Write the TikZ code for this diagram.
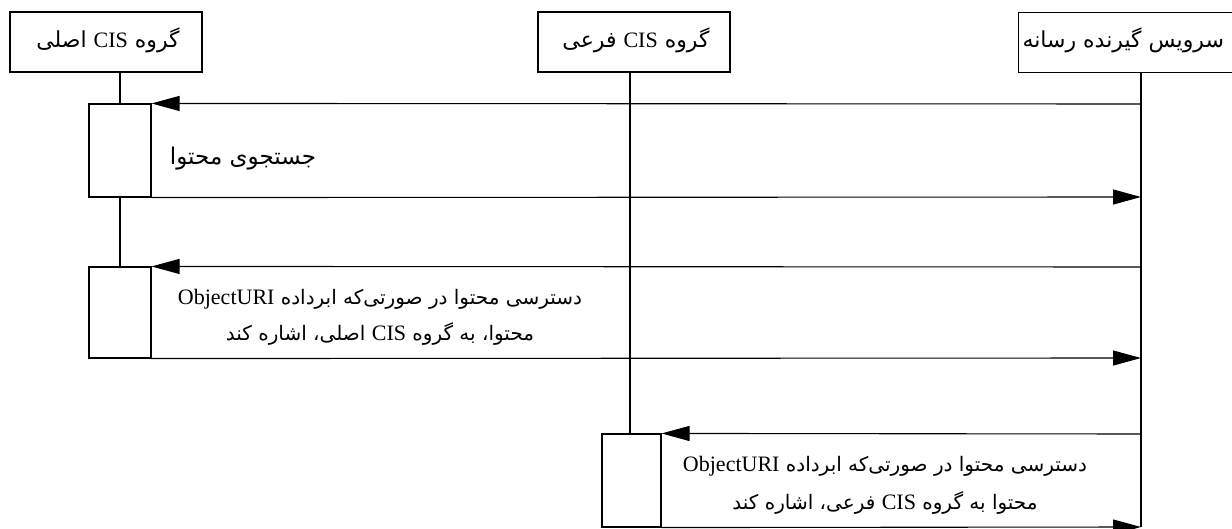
\documentclass[tikz,border=0pt]{standalone}
\usepackage{fontspec}
\setmainfont{Liberation Serif}
\newfontfamily\farsifont[Script=Arabic]{DejaVu Sans}
\newfontfamily\latinfont{Liberation Serif}
\newfontfamily\latinbigfont[Scale=1.1]{Liberation Serif}
\TeXXeTstate=1
\usetikzlibrary{arrows.meta}

% Persian run (right to left) and embedded Latin words
\newcommand{\fatext}[1]{{\farsifont\beginR #1\endR}}
\newcommand{\latinword}[1]{\beginL{\latinfont #1}\endL{}}
\newcommand{\latinbig}[1]{\beginL{\latinbigfont #1}\endL{}}

\begin{document}
\begin{tikzpicture}[x=1pt,y=-1pt,line width=1.1pt,
  hdr/.style={draw,rectangle,inner sep=0pt,minimum width=192pt,minimum height=60pt},
  hdrtext/.style={inner sep=0pt,font=\fontsize{22}{26}\selectfont},
  act/.style={draw,rectangle,inner sep=0pt},
  msg/.style={-{Triangle[length=28pt,width=15pt]}},
  lbl/.style={inner sep=0pt,font=\fontsize{20}{24}\selectfont}]
\useasboundingbox (0,0) rectangle (1232,529);

% participants
\node[hdr] (hdrA) at (106,42) {};
\node[hdrtext] (hdrAtext) at (108,40) {\fatext{گروه \latinword{CIS} اصلی}};
\node[hdr] (hdrB) at (634,42) {};
\node[hdrtext] (hdrBtext) at (636,40) {\fatext{گروه \latinword{CIS} فرعی}};
\node[draw,rectangle,inner sep=0pt,minimum width=240pt,minimum height=60pt,anchor=north west] (hdrC) at (1018,12) {};
\node[hdrtext,anchor=west] (hdrCtext) at (1022,40) {\fatext{سرویس گیرنده رسانه}};

% activation boxes
\node[act,minimum width=62pt,minimum height=93pt] (act1) at (120,150.5) {};
\node[act,minimum width=62pt,minimum height=91pt] (act2) at (120,312.5) {};
\node[act,minimum width=59pt,minimum height=93pt] (act3) at (631.5,480.5) {};

% lifeline points
\coordinate (a0) at (120,72);
\coordinate (b0) at (630,72);
\coordinate (b1) at (630,434);
\coordinate (c0) at (1141,72);
\coordinate (c1) at (1141,104);
\coordinate (c2) at (1141,197);
\coordinate (c3) at (1141,267);
\coordinate (c4) at (1141,358);
\coordinate (c5) at (1141,434);
\coordinate (c6) at (1141,527);

% lifelines
\draw (a0) -- (act1.north);
\draw (act1.south) -- (act2.north);
\draw (b0) -- (b1);
\draw (c0) -- (c6);

% messages
\draw[msg] (c1) -- (act1.north east);
\draw[msg] (act1.south east) -- (c2);
\draw[msg] (c3) -- (act2.north east);
\draw[msg] (act2.south east) -- (c4);
\draw[msg] (c5) -- (act3.north east);
\draw[msg] (act3.south east) -- (c6);

% message labels
\node[lbl,font=\fontsize{23}{27}\selectfont] (t1) at (243,159) {\fatext{جستجوی محتوا}};
\node[lbl] (t2a) at (380,299) {\fatext{دسترسی محتوا در صورتی‌که ابرداده \latinbig{ObjectURI}}};
\node[lbl] (t2b) at (380,334) {\fatext{محتوا، به گروه \latinbig{CIS} اصلی، اشاره کند}};
\node[lbl] (t3a) at (885,466) {\fatext{دسترسی محتوا در صورتی‌که ابرداده \latinbig{ObjectURI}}};
\node[lbl] (t3b) at (885,503) {\fatext{محتوا به گروه \latinbig{CIS} فرعی، اشاره کند}};
\end{tikzpicture}
\end{document}
